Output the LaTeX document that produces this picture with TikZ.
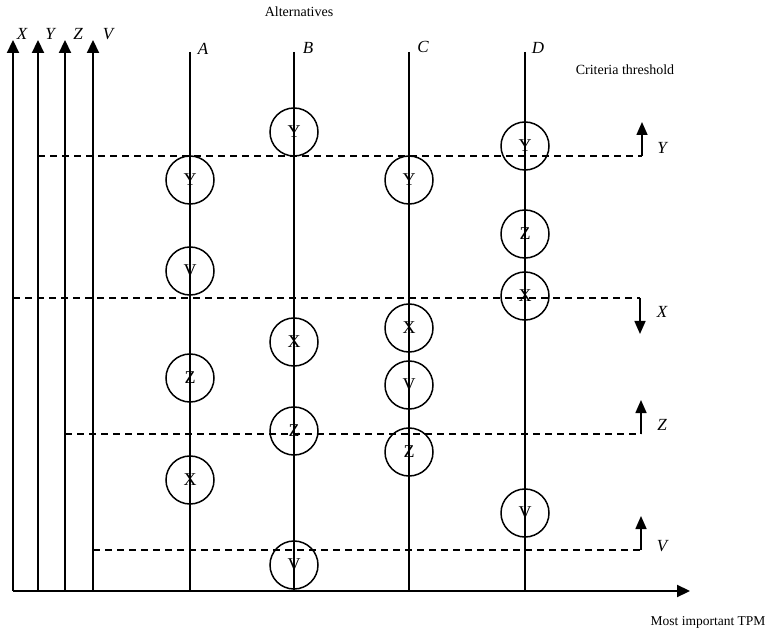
\documentclass[tikz,border=0pt]{standalone}
\usepackage{fontspec}
\setmainfont{Liberation Serif}
\usetikzlibrary{arrows.meta}
\begin{document}
\begin{tikzpicture}[x=1pt,y=-1pt,
  axis/.style={line width=2.2pt,-{Triangle[length=13pt,width=12pt]}},
  altline/.style={line width=1.5pt},
  thr/.style={line width=1.4pt,dash pattern=on 7pt off 5pt},
  thrarrow/.style={line width=1.6pt,-{Triangle[length=13pt,width=11pt]}},
  crit/.style={circle,draw,line width=1.5pt,minimum size=48pt,inner sep=0pt,font=\fontsize{18}{20}\selectfont},
  lab/.style={inner sep=0pt,font=\fontsize{14}{16}\selectfont},
  ilab/.style={font=\fontsize{17}{19}\selectfont\itshape}]
\useasboundingbox (0,0) rectangle (766,636);
% origin and axes
\coordinate (o) at (13,591);
\coordinate (xend) at (690,591);
\draw[axis] (o) -- (xend);
\coordinate (ax1b) at (13,591); \coordinate (ax1t) at (13,40);
\coordinate (ax2b) at (38,591); \coordinate (ax2t) at (38,40);
\coordinate (ax3b) at (65,591); \coordinate (ax3t) at (65,40);
\coordinate (ax4b) at (93,591); \coordinate (ax4t) at (93,40);
\draw[axis] (ax1b) -- (ax1t);
\draw[axis] (ax2b) -- (ax2t);
\draw[axis] (ax3b) -- (ax3t);
\draw[axis] (ax4b) -- (ax4t);
\node[ilab] (lx) at (22,34) {X};
\node[ilab] (ly) at (50,34) {Y};
\node[ilab] (lz) at (78,34) {Z};
\node[ilab] (lv) at (108,34) {V};
% titles
\node[lab] (alt) at (299,12) {Alternatives};
\node[lab] (crth) at (625,70) {Criteria threshold};
\node[lab,font=\fontsize{13.5}{16}\selectfont] (tpm) at (708,622) {Most important TPM};
% alternative lines
\coordinate (At) at (190,52); \coordinate (Ab) at (190,591);
\coordinate (Bt) at (294,52); \coordinate (Bb) at (294,591);
\coordinate (Ct) at (409,52); \coordinate (Cb) at (409,591);
\coordinate (Dt) at (525,52); \coordinate (Db) at (525,591);
\draw[altline] (At) -- (Ab);
\draw[altline] (Bt) -- (Bb);
\draw[altline] (Ct) -- (Cb);
\draw[altline] (Dt) -- (Db);
\node[ilab] (la) at (203,49) {A};
\node[ilab] (lb) at (308,48) {B};
\node[ilab] (lc) at (423,47) {C};
\node[ilab] (ld) at (538,48) {D};
% thresholds
\coordinate (ty1) at (38,156); \coordinate (ty2) at (642,156);
\coordinate (tx1) at (13,298); \coordinate (tx2) at (640,298);
\coordinate (tz1) at (65,434); \coordinate (tz2) at (641,434);
\coordinate (tv1) at (93,550); \coordinate (tv2) at (641,550);
\draw[thr] (ty1) -- (ty2);
\draw[thr] (tx1) -- (tx2);
\draw[thr] (tz1) -- (tz2);
\draw[thr] (tv1) -- (tv2);
\coordinate (ay) at (642,122);
\coordinate (axx) at (640,334);
\coordinate (az) at (641,400);
\coordinate (av) at (641,516);
\draw[thrarrow] (ty2) -- (ay);
\draw[thrarrow] (tx2) -- (axx);
\draw[thrarrow] (tz2) -- (az);
\draw[thrarrow] (tv2) -- (av);
\node[ilab] (ry) at (662,148) {Y};
\node[ilab] (rx) at (662,312) {X};
\node[ilab] (rz) at (662,425) {Z};
\node[ilab] (rv) at (662,546) {V};
% criteria circles
\node[crit] (AY) at (190,180) {Y};
\node[crit] (AV) at (190,271) {V};
\node[crit] (AZ) at (190,378) {Z};
\node[crit] (AX) at (190,480) {X};
\node[crit] (BY) at (294,132) {Y};
\node[crit] (BX) at (294,342) {X};
\node[crit] (BZ) at (294,431) {Z};
\node[crit] (BV) at (294,565) {V};
\node[crit] (CY) at (409,180) {Y};
\node[crit] (CX) at (409,328) {X};
\node[crit] (CV) at (409,385) {V};
\node[crit] (CZ) at (409,452) {Z};
\node[crit] (DY) at (525,146) {Y};
\node[crit] (DZ) at (525,234) {Z};
\node[crit] (DX) at (525,296) {X};
\node[crit] (DV) at (525,513) {V};
\end{tikzpicture}
\end{document}
